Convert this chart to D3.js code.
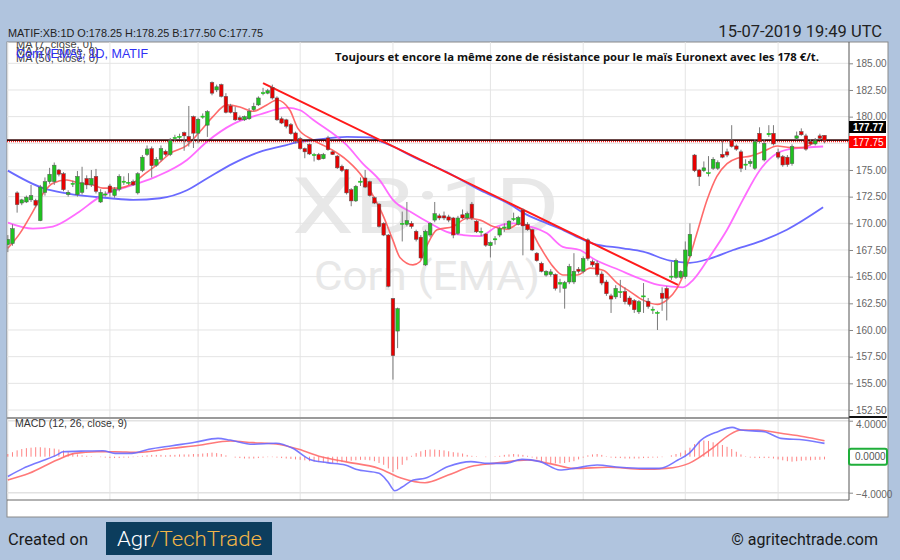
<!DOCTYPE html>
<html><head><meta charset="utf-8">
<script src="https://cdn.jsdelivr.net/npm/d3@7"></script>
<style>body{margin:0;background:#b0c4de;}svg{display:block}</style>
</head><body><svg id="c" width="900" height="560"></svg>
<script>
// ---------- DATA ----------
const opens = [168.0,168.1,172.85,171.9,172.0,172.2,172.15,170.25,172.9,173.9,173.9,175.0,174.65,172.7,173.65,172.7,172.9,174.2,173.6,174.4,172.0,172.65,173.5,172.6,173.2,173.85,173.75,173.9,172.85,174.95,176.45,177.0,175.45,176.0,176.75,176.45,177.95,178.05,178.5,178.15,180.0,178.45,179.95,179.2,183.2,182.5,183.0,181.9,181.0,180.4,179.9,179.7,179.8,180.65,181.1,182.15,182.2,182.75,181.75,179.8,179.7,179.25,178.47,177.94,177.0,177.4,176.35,176.45,176.06,178.0,176.7,176.3,175.35,175.03,173.15,172.1,173.85,174.25,173.9,172.4,171.8,170.0,168.9,162.94,159.9,169.95,169.9,170.0,169.25,168.7,166.1,168.9,170.3,170.7,170.7,170.6,170.5,169.05,170.8,170.5,171.8,170.2,169.15,169.0,167.9,168.45,168.9,169.55,169.5,170.35,169.9,171.25,169.9,169.4,167.2,166.25,165.15,165.2,165.2,164.3,163.9,164.5,164.5,165.7,165.5,168.45,166.4,166.25,165.25,164.5,163.2,163.1,163.5,163.6,163.0,162.75,161.7,163.1,162.7,161.85,161.55,163.45,163.9,164.95,164.94,164.94,165.0,166.94,176.4,175.0,174.93,174.65,175.16,175.16,176.47,176.7,177.8,177.25,176.7,175.45,175.6,175.16,178.44,175.94,178.3,178.44,176.65,176.25,176.2,175.6,177.97,178.6,178.2,177.65,177.44,178.2,178.25];
const highs = [168.9,169.9,173.0,172.3,172.6,173.6,172.3,173.6,174.3,175.2,175.7,175.1,174.8,173.1,174.0,174.9,175.3,174.5,175.0,175.1,173.2,173.0,173.7,173.4,174.6,174.4,174.7,174.1,174.8,176.4,177.3,177.2,176.2,177.3,176.9,178.0,178.3,178.4,178.6,181.0,180.1,179.9,180.3,180.6,183.3,183.0,183.1,182.2,181.2,180.9,180.1,180.1,180.8,181.3,181.9,182.7,182.6,183.0,181.9,180.0,179.8,179.4,178.6,178.1,177.1,177.5,176.6,176.6,176.6,178.2,176.8,176.4,175.5,175.1,173.3,173.6,174.3,175.0,174.0,172.5,171.9,170.1,169.0,163.0,162.1,171.1,172.0,170.2,169.4,168.9,169.4,170.1,172.0,170.9,171.1,170.8,170.6,170.7,171.3,171.1,172.0,170.3,169.6,169.1,168.3,168.8,169.7,170.0,170.3,171.0,170.7,171.4,170.1,169.5,167.3,166.4,165.6,165.7,165.3,164.8,164.6,166.2,167.2,165.9,166.9,168.6,166.6,166.5,165.5,164.7,163.4,164.2,164.7,164.0,163.2,162.9,162.8,164.4,163.0,162.2,161.8,164.0,164.1,166.4,166.7,165.6,168.3,170.0,176.5,175.1,175.8,176.3,176.2,175.9,177.75,177.0,179.2,177.4,176.9,176.0,176.0,177.9,179.0,177.9,179.2,179.2,177.0,176.4,176.4,177.4,178.6,178.9,178.4,177.9,178.0,178.4,178.25];
const lows = [167.3,167.9,171.0,171.7,171.9,172.0,171.5,170.2,172.6,173.7,173.6,174.4,173.0,172.5,173.4,172.5,172.7,173.2,173.4,172.8,171.9,172.5,172.5,172.4,173.0,173.6,173.6,173.5,172.7,174.8,176.3,174.3,175.3,175.8,176.3,176.3,177.7,177.9,176.8,177.2,177.06,177.5,179.8,178.1,182.0,182.3,181.8,180.3,180.3,179.6,179.6,179.6,179.7,180.5,181.0,182.0,182.1,181.6,179.6,179.3,178.9,178.3,177.5,176.9,176.1,176.4,175.8,175.9,176.0,176.8,176.4,175.1,174.8,172.7,171.6,172.0,173.5,173.3,172.5,171.8,169.6,168.8,164.0,155.35,158.3,168.3,169.7,169.5,168.3,166.6,166.0,168.7,170.1,170.3,170.3,170.1,168.6,168.9,170.4,170.3,170.3,169.1,168.8,167.8,166.8,168.0,168.7,169.2,169.4,170.2,169.8,167.0,169.3,167.4,166.4,165.4,165.0,165.0,163.7,163.5,162.0,164.3,164.3,165.3,165.3,166.5,165.9,165.0,164.2,163.2,161.6,162.9,163.0,162.4,162.2,161.6,161.5,161.6,162.0,161.5,160.0,161.8,160.9,164.7,164.8,164.8,164.8,166.8,174.8,173.5,174.8,174.4,175.0,175.0,176.1,176.2,177.1,176.8,174.8,175.0,175.3,175.0,177.5,175.8,178.1,177.3,176.0,175.3,175.3,175.4,177.8,178.2,176.8,177.3,177.3,177.8,177.5];
const closes = [168.5,169.5,171.75,172.2,172.45,172.6,171.7,173.4,173.9,174.6,175.45,174.6,173.15,172.9,173.75,174.4,173.8,173.6,174.2,173.0,172.9,172.75,172.9,173.2,174.4,173.95,173.85,173.6,174.65,176.2,176.97,175.4,176.0,177.0,176.45,177.75,178.05,178.15,178.2,177.7,178.45,179.75,180.05,180.47,182.2,182.8,181.9,180.4,180.4,179.7,179.7,180.0,180.5,180.97,181.75,182.25,182.43,181.75,179.7,179.4,179.1,178.4,177.7,177.0,176.7,176.5,176.45,175.97,176.45,176.9,176.45,175.2,174.95,172.85,172.1,173.47,173.95,173.4,172.6,171.9,169.7,168.9,164.1,157.6,162.0,170.0,170.25,169.7,168.5,166.75,169.25,170.0,170.9,170.5,170.5,170.3,168.9,170.5,170.5,170.9,170.5,169.2,169.25,167.95,168.2,168.55,169.5,169.65,170.2,170.45,170.55,169.75,169.4,167.5,166.5,165.5,165.5,165.45,163.9,164.45,164.45,165.95,165.5,165.5,166.7,166.7,166.1,165.2,164.4,163.4,162.9,163.9,163.6,162.65,162.4,161.9,162.65,163.2,162.2,161.95,161.65,162.97,162.97,165.05,166.5,165.5,167.5,168.97,174.93,174.37,175.2,174.75,176.0,175.7,176.2,176.4,177.2,176.95,175.16,175.55,175.8,177.65,177.65,177.5,178.44,177.44,176.2,175.47,175.5,177.2,178.2,178.3,176.95,177.44,177.75,177.97,177.75];

// moving averages: [candle index, value]
const ma7 = [[0,167.66],[2.6,169.06],[5.4,171.1],[7.6,172.8],[9.7,173.75],[12.7,174.06],[15.5,173.75],[18.3,173.6],[20.5,173.3],[23.5,173.3],[27,173.75],[29.1,174.5],[32.1,175.47],[35,176.56],[38.6,177.3],[41.4,178.6],[44.2,180.0],[47.2,181.1],[50,180.9],[52.8,180.5],[55.8,181.1],[58,181.56],[60.8,180.6],[62.5,178.9],[65.8,177.8],[69.4,177.0],[73.1,175.9],[76.5,174.3],[78.7,172.6],[80.9,170.7],[83,168.4],[84.5,166.8],[87.3,166.1],[88.8,166.4],[90.3,167.9],[92.5,169.4],[96,169.7],[99,170.47],[101.8,170.3],[104.6,169.7],[107.6,169.45],[110.4,170.0],[112.1,169.7],[114.7,167.8],[117.5,165.94],[119.6,165.16],[122.7,165.16],[125.5,165.8],[128.3,165.6],[131.3,164.4],[134.1,163.6],[136.9,162.8],[140,162.4],[142,162.8],[144.2,163.9],[146.4,166.1],[148.5,169.06],[150.7,172.2],[152.8,174.4],[155,175.6],[157.2,176.1],[160,176.3],[162.7,176.7],[165.8,177.25],[168.6,177.1],[171.4,177.1],[173.5,177.5],[175.7,177.9]];
const ma20 = [[0,170.06],[5.4,169.5],[9.7,169.7],[14.9,170.94],[19.9,172.5],[27,173.6],[32.1,174.4],[38.6,175.94],[42.9,177.65],[48.5,179.3],[54.3,180.2],[60.2,180.85],[63,180.6],[65.8,179.7],[73.1,177.3],[76.5,175.6],[80.2,174.0],[83,172.2],[87.3,170.94],[91,170.0],[94.6,169.2],[98.1,168.9],[101.8,168.8],[105.4,169.7],[108.9,170.0],[112.5,169.7],[116.2,169.06],[119.6,167.8],[123.3,167.5],[126.1,166.7],[131.9,165.6],[136.9,164.7],[140.5,164.2],[145.5,164.0],[147.7,164.7],[151.3,166.9],[155,169.4],[158.4,172.2],[162.1,175.0],[165.8,176.56],[169.2,177.0],[175.7,177.2]];
const ma50 = [[0,174.94],[7.6,173.3],[12.7,172.8],[22,172.35],[27,172.2],[32.8,172.35],[38.6,173.1],[42.9,174.2],[48.5,175.6],[54.3,176.7],[59.3,177.25],[63,177.65],[65.8,177.8],[73.1,178.1],[78,178.05],[80.2,177.7],[83,177.2],[87.3,176.25],[94.6,174.8],[101.8,173.1],[108.9,171.6],[111,171.0],[116.2,170.0],[119,169.5],[123.3,168.6],[126.1,168.1],[132.6,167.66],[136.9,167.34],[142.7,166.5],[147,166.3],[151.3,166.7],[156.3,167.5],[162.1,168.3],[167.9,169.4],[175.7,171.5]];

// trend line [index, price]
const trendStart = [55.0, 183.15];
const trendEnd = [144.4, 164.22];
const resistance = 177.75;

// MACD (12,26,close,9)
const macdLine = [[0,-2.2],[3.3,-1.3],[6.9,-0.55],[10.6,0.2],[11.9,0.55],[16.8,0.63],[20.5,0.66],[23.1,0.37],[26.7,0.37],[30.4,0.82],[35.4,1.22],[40.3,1.6],[45.3,2.04],[47.9,1.85],[52.8,1.38],[57.8,1.49],[61.4,0.93],[65.1,-0.3],[68.8,-0.66],[72.7,-0.92],[75,-1.4],[80,-1.85],[81.9,-2.78],[83.4,-3.78],[84.9,-3.4],[87.4,-2.6],[89.9,-2.4],[94.9,-1.1],[99.8,-0.55],[103.5,-0.74],[107.1,-0.74],[110.8,-0.3],[114.7,-0.55],[119,-1.48],[122,-1.3],[127,-0.92],[131.9,-1.18],[136.9,-1.3],[140.5,-1.3],[144.4,-0.37],[146.8,0.37],[149.4,1.85],[153,2.78],[156.1,3.26],[158,2.96],[163,2.78],[166.6,2.04],[171.6,1.85],[176,1.48]];
const signalLine = [[0,-2.6],[4.6,-1.85],[10.6,-0.37],[14.4,0.37],[19.2,0.55],[23.1,0.55],[28,0.48],[35.4,0.93],[41.6,1.3],[47.9,1.74],[52.8,1.56],[57.8,1.41],[62.7,0.82],[67.5,0],[72.7,-0.55],[80,-1.3],[84.9,-2.4],[89.9,-2.9],[94.9,-2.04],[99.8,-1.1],[104.8,-0.74],[112.1,-0.37],[117.1,-0.8],[122,-1.3],[129.4,-1.18],[136.9,-1.4],[141.9,-1.3],[146.8,-0.74],[151.8,0.93],[155.4,2.4],[158,2.96],[161.7,2.96],[166.6,2.6],[171.6,2.22],[176,1.78]];
const histogram = [0.3,0.5,0.7,0.85,0.95,1.0,1.05,1.05,1.0,0.95,0.9,0.8,0.7,0.5,0.4,0.25,0.15,0.1,0.05,0.0,-0.05,-0.1,-0.15,-0.15,-0.15,-0.1,-0.1,-0.05,0.05,0.1,0.15,0.2,0.2,0.2,0.15,0.2,0.2,0.25,0.25,0.25,0.3,0.3,0.35,0.4,0.45,0.4,0.3,0.15,0.0,-0.1,-0.15,-0.2,-0.2,-0.2,-0.15,-0.1,-0.05,-0.05,-0.1,-0.15,-0.2,-0.25,-0.3,-0.35,-0.4,-0.5,-0.55,-0.6,-0.65,-0.7,-0.7,-0.65,-0.6,-0.5,-0.45,-0.4,-0.35,-0.35,-0.4,-0.5,-0.7,-0.9,-1.3,-1.7,-1.4,-0.9,-0.4,0.1,0.4,0.6,0.75,0.8,0.8,0.75,0.7,0.6,0.5,0.45,0.35,0.2,0.1,0.05,0.0,-0.05,0.0,0.05,0.1,0.2,0.25,0.3,0.25,0.2,0.1,-0.1,-0.3,-0.5,-0.6,-0.7,-0.75,-0.75,-0.7,-0.6,-0.5,-0.3,-0.1,0.15,0.25,0.3,0.2,0.05,-0.1,-0.15,-0.15,-0.2,-0.2,-0.2,-0.2,-0.15,-0.15,-0.1,-0.1,-0.05,0.0,0.15,0.3,0.45,0.7,1.0,1.4,1.7,1.8,1.75,1.6,1.45,1.3,1.1,0.85,0.55,0.25,0.05,-0.1,-0.15,-0.15,-0.15,-0.15,-0.2,-0.3,-0.4,-0.5,-0.55,-0.5,-0.45,-0.4,-0.4,-0.35,-0.35,-0.3];

// ticks and labels
const priceTicks = [152.5,155,157.5,160,162.5,165,167.5,170,172.5,175,177.5,180,182.5,185];
const hiddenPriceTick = 177.5; // covered by the last-price marker in the reference
const macdTicks = [4,-4];
const monthLabels = ["Nov","Déc","2019","Févr","Mars","Avr","Mai","Juin","Juil"];
const monthStartIdx = [0,22,41,63,83,104,124,146,166];
const lastPrice = 177.75, lastMarker = 177.77;

// ---------- LAYOUT ----------
const svg = d3.select("#c");
const PL=7, PR=849, PT=42, PB=418, MB=500;
const FONT = "'Liberation Sans', Arial, sans-serif";

svg.append("rect").attr("width",900).attr("height",560).attr("fill","#b0c4de");
svg.append("rect").attr("x",7).attr("y",42).attr("width",881).attr("height",475)
  .attr("fill","#fff").attr("stroke","#8a8a8a").attr("stroke-width",1);

const defs = svg.append("defs");
defs.append("clipPath").attr("id","cp").append("rect").attr("x",PL).attr("y",PT).attr("width",PR-PL).attr("height",PB-PT);
defs.append("clipPath").attr("id","cm").append("rect").attr("x",PL).attr("y",PB).attr("width",PR-PL).attr("height",MB-PB);
defs.append("clipPath").attr("id","cx").append("rect").attr("x",4).attr("y",500).attr("width",845).attr("height",17);

const x = d3.scaleLinear().domain([-0.18,181.28]).range([PL,PR]);
const y = d3.scaleLinear().domain([152.5,185]).range([410,63.3]);
const ym = d3.scaleLinear().domain([-4,4]).range([492.7,420.7]);

// ---------- PRICE PANEL ----------
const gp = svg.append("g").attr("clip-path","url(#cp)");

// watermark
gp.append("text").attr("x",426).attr("y",233).attr("text-anchor","middle")
  .attr("font-family","Roboto, 'Liberation Sans', sans-serif").attr("font-size",78)
  .attr("fill","#e8e8e8").attr("textLength",268).attr("lengthAdjust","spacingAndGlyphs").text("XB:1D");
gp.append("text").attr("x",427).attr("y",290).attr("text-anchor","middle")
  .attr("font-family","Roboto, 'Liberation Sans', sans-serif").attr("font-size",40)
  .attr("fill","#e8e8e8").attr("textLength",226).attr("lengthAdjust","spacingAndGlyphs").text("Corn (EMA)");

// grid
gp.selectAll(".hg").data(priceTicks).enter().append("line")
  .attr("x1",PL).attr("x2",PR).attr("y1",d=>y(d)).attr("y2",d=>y(d))
  .attr("stroke","#e4e4e4").attr("stroke-width",1);
gp.selectAll(".vg").data(monthStartIdx).enter().append("line")
  .attr("x1",d=>x(d)).attr("x2",d=>x(d)).attr("y1",PT).attr("y2",PB)
  .attr("stroke","#e4e4e4").attr("stroke-width",1);

// moving averages
const lineP = d3.line().x(d=>x(d[0])).y(d=>y(d[1])).curve(d3.curveMonotoneX);
gp.append("path").attr("d",lineP(ma50)).attr("fill","none").attr("stroke","#5a5aff").attr("stroke-width",1.8).attr("opacity",0.9);
gp.append("path").attr("d",lineP(ma20)).attr("fill","none").attr("stroke","#ff5cff").attr("stroke-width",1.8).attr("opacity",0.9);
gp.append("path").attr("d",lineP(ma7)).attr("fill","none").attr("stroke","#ff5a5a").attr("stroke-width",1.6).attr("opacity",0.9);

// resistance line
gp.append("line").attr("x1",PL).attr("x2",PR).attr("y1",y(resistance)+0.9).attr("y2",y(resistance)+0.9)
  .attr("stroke","#ff2020").attr("stroke-width",1.2).attr("stroke-dasharray","1,1");
gp.append("line").attr("x1",PL).attr("x2",PR).attr("y1",y(resistance)-0.6).attr("y2",y(resistance)-0.6)
  .attr("stroke","#3a0c0c").attr("stroke-width",1.8);

// trend line
gp.append("line").attr("x1",x(trendStart[0])).attr("y1",y(trendStart[1]))
  .attr("x2",x(trendEnd[0])).attr("y2",y(trendEnd[1]))
  .attr("stroke","#ff1a1a").attr("stroke-width",2);

// candles
const idx = d3.range(opens.length);
gp.selectAll(".wick").data(idx).enter().append("line")
  .attr("x1",i=>x(i)).attr("x2",i=>x(i)).attr("y1",i=>y(highs[i])).attr("y2",i=>y(lows[i]))
  .attr("stroke","#7a7a7a").attr("stroke-width",1);
const bw = 3.6;
gp.selectAll(".body").data(idx).enter().append("rect")
  .attr("x",i=>x(i)-bw/2).attr("width",bw)
  .attr("y",i=>y(Math.max(opens[i],closes[i])))
  .attr("height",i=>Math.max(1,Math.abs(y(opens[i])-y(closes[i]))))
  .attr("fill",i=>closes[i]>=opens[i]?"#1fc21f":"#e80000")
  .attr("stroke",i=>Math.abs(opens[i]-closes[i])<0.15?(closes[i]>=opens[i]?"#1fc21f":"#e80000"):"#555")
  .attr("stroke-width",0.5);

// legend texts (overlapping, as in the reference)
gp.append("text").attr("x",16).attr("y",48).attr("font-family",FONT).attr("font-size",11).attr("fill","#444").text("MA (7, close, 0)");
gp.append("text").attr("x",16).attr("y",55).attr("font-family",FONT).attr("font-size",11).attr("fill","#444").text("MA (20, close, 0)");
gp.append("text").attr("x",16).attr("y",62).attr("font-family",FONT).attr("font-size",11).attr("fill","#444").text("MA (50, close, 0)");
gp.append("text").attr("x",16).attr("y",57.5).attr("font-family",FONT).attr("font-size",13).attr("fill","#2f2ff5")
  .attr("textLength",132).attr("lengthAdjust","spacingAndGlyphs").text("Corn (EMA), 1D, MATIF");

// title
gp.append("text").attr("x",335).attr("y",60.5).attr("font-family","'Open Sans', 'DejaVu Sans', sans-serif").attr("font-weight","bold")
  .attr("font-size",11).attr("fill","#111").attr("textLength",484).attr("lengthAdjust","spacingAndGlyphs")
  .text("Toujours et encore la même zone de résistance pour le maïs Euronext avec les 178 €/t.");

// ---------- MACD PANEL ----------
const gm = svg.append("g").attr("clip-path","url(#cm)");
gm.selectAll(".vg").data(monthStartIdx).enter().append("line")
  .attr("x1",d=>x(d)).attr("x2",d=>x(d)).attr("y1",PB).attr("y2",MB)
  .attr("stroke","#e4e4e4");
gm.selectAll(".hg").data(macdTicks).enter().append("line")
  .attr("x1",PL).attr("x2",PR).attr("y1",d=>ym(d)).attr("y2",d=>ym(d))
  .attr("stroke","#e2e2e2").attr("stroke-width",1.5);
gm.selectAll(".hist").data(idx).enter().append("line")
  .attr("x1",i=>x(i)).attr("x2",i=>x(i)).attr("y1",ym(0)).attr("y2",i=>ym(histogram[i]))
  .attr("stroke","#ff5a5a").attr("stroke-width",1).attr("opacity",0.75);
const lineM = d3.line().x(d=>x(d[0])).y(d=>ym(d[1])).curve(d3.curveMonotoneX);
gm.append("path").attr("d",lineM(signalLine)).attr("fill","none").attr("stroke","#ff6a6a").attr("stroke-width",1.6).attr("opacity",0.9);
gm.append("path").attr("d",lineM(macdLine)).attr("fill","none").attr("stroke","#6a6aff").attr("stroke-width",1.6).attr("opacity",0.9);
gm.append("text").attr("x",15).attr("y",427).attr("font-family",FONT).attr("font-size",10.5).attr("fill","#333").text("MACD (12, 26, close, 9)");

// panel separator
svg.append("line").attr("x1",PL).attr("x2",PR).attr("y1",PB).attr("y2",PB).attr("stroke","#9a9a9a").attr("stroke-width",2);
svg.append("line").attr("x1",PR).attr("x2",887).attr("y1",PB-1).attr("y2",PB-1).attr("stroke","#111").attr("stroke-width",2);

// ---------- AXES ----------
const ya = svg.append("g").attr("transform",`translate(${PR},0)`)
  .call(d3.axisRight(y).tickValues(priceTicks).tickFormat(d3.format(".2f")).tickSize(4).tickPadding(3));
ya.select(".domain").attr("stroke","#555").attr("d",`M0,${PT}V${PB}`);
ya.selectAll(".tick line").attr("stroke","#888");
ya.selectAll("text").attr("font-family",FONT).attr("font-size",10).attr("fill","#666");
ya.selectAll(".tick").filter(d=>d===hiddenPriceTick).select("text").remove();

const ma = svg.append("g").attr("transform",`translate(${PR},0)`)
  .call(d3.axisRight(ym).tickValues(macdTicks).tickFormat(d3.format(".4f")).tickSize(4).tickPadding(3));
ma.select(".domain").attr("stroke","#555").attr("d",`M0,${PB}V${MB}`);
ma.selectAll(".tick line").attr("stroke","#888");
ma.selectAll("text").attr("font-family",FONT).attr("font-size",10).attr("fill","#666");
ma.selectAll(".tick").filter(d=>d<0).select("text").attr("dy","0.5em");
ma.selectAll(".tick").filter(d=>d>0).select("text").attr("dy","0.65em");

// zero marker
svg.append("rect").attr("x",PR).attr("y",ym(0)-8).attr("width",38).attr("height",16).attr("rx",2)
  .attr("fill","#fff").attr("stroke","#1fae3a").attr("stroke-width",2);
svg.append("text").attr("x",PR+6).attr("y",ym(0)+3.5).attr("font-family",FONT).attr("font-size",10).attr("fill","#555").text(d3.format(".4f")(0));

// last price markers (stacked so they do not overlap)
svg.append("rect").attr("x",PR).attr("y",121).attr("width",37).attr("height",12).attr("fill","#000");
svg.append("text").attr("x",PR+4).attr("y",130.5).attr("font-family",FONT).attr("font-size",10).attr("font-weight","bold").attr("fill","#fff").text(d3.format(".2f")(lastMarker));
svg.append("rect").attr("x",PR).attr("y",136).attr("width",37).attr("height",12).attr("fill","#ff0000");
svg.append("text").attr("x",PR+4).attr("y",145.5).attr("font-family",FONT).attr("font-size",10).attr("fill","#fff").text(d3.format(".2f")(lastPrice));

// x axis
const xa = svg.append("g").attr("transform",`translate(0,${MB})`).attr("clip-path","url(#cx)")
  .call(d3.axisBottom(x).tickValues(monthStartIdx).tickFormat((d,i)=>monthLabels[i]).tickSize(3).tickPadding(2));
xa.select(".domain").remove();
xa.selectAll(".tick line").attr("stroke","#777");
xa.selectAll("text").attr("font-family",FONT).attr("font-size",10).attr("fill","#444")
  .attr("font-weight",(d,i)=>monthLabels[i]==="2019"?"bold":"normal");
svg.append("line").attr("x1",PL).attr("x2",PR).attr("y1",MB).attr("y2",MB).attr("stroke","#666");

// ---------- HEADER / FOOTER ----------
svg.append("text").attr("x",8).attr("y",37).attr("font-family",FONT).attr("font-size",11).attr("fill","#222")
  .attr("textLength",255).attr("lengthAdjust","spacingAndGlyphs")
  .text("MATIF:XB:1D O:178.25 H:178.25 B:177.50 C:177.75");
svg.append("text").attr("x",882).attr("y",37).attr("text-anchor","end").attr("font-family","Roboto, sans-serif").attr("font-size",16.5).attr("fill","#222")
  .text("15-07-2019 19:49 UTC");

svg.append("text").attr("x",8).attr("y",545).attr("font-family","Roboto, sans-serif").attr("font-size",16).attr("fill","#1a1a1a")
  .attr("textLength",80).attr("lengthAdjust","spacingAndGlyphs").text("Created on");
svg.append("rect").attr("x",106).attr("y",522).attr("width",166).attr("height",33).attr("fill","#0c3d5d");
const logo = svg.append("text").attr("x",117).attr("y",546).attr("font-family","Roboto, sans-serif").attr("font-size",21).attr("font-weight",300)
  .attr("textLength",145).attr("lengthAdjust","spacingAndGlyphs");
logo.append("tspan").attr("fill","#ffffff").text("Agr");
logo.append("tspan").attr("fill","#e8a631").text("/");
logo.append("tspan").attr("fill","#f2b548").text("TechTrade");
svg.append("text").attr("x",878).attr("y",545).attr("text-anchor","end").attr("font-family","Roboto, sans-serif").attr("font-size",16).attr("fill","#1a1a1a")
  .text("© agritechtrade.com");
</script>
</body></html>
